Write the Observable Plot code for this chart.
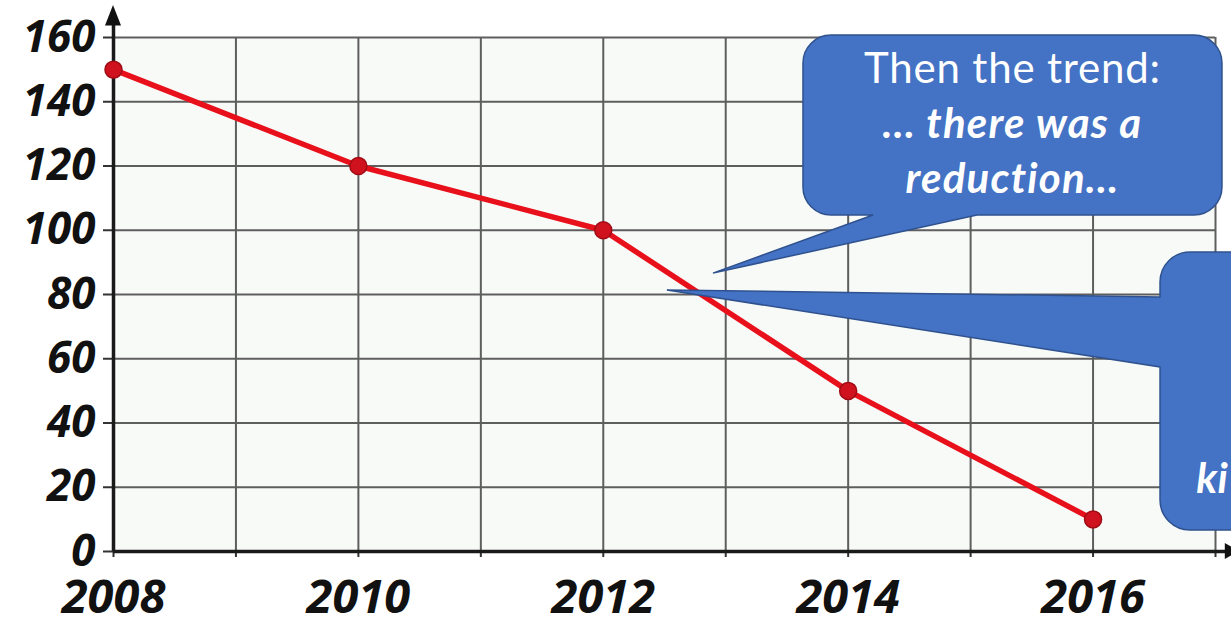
<!DOCTYPE html>
<html>
<head>
<meta charset="utf-8">
<script src="https://cdn.jsdelivr.net/npm/d3@7"></script>
<script src="https://cdn.jsdelivr.net/npm/@observablehq/plot@0.6"></script>
<style>
  html, body { margin: 0; padding: 0; background: #ffffff; }
  #chart svg { display: block; }
</style>
</head>
<body>
<div id="chart"></div>
<script>
// ---- data ----
const years = [2008, 2010, 2012, 2014, 2016];
const values = [150, 120, 100, 50, 10];
const xTickLabels = ["2008", "2010", "2012", "2014", "2016"];
const yTicks = [0, 20, 40, 60, 80, 100, 120, 140, 160];
const gridYears = [2008, 2009, 2010, 2011, 2012, 2013, 2014, 2015, 2016, 2017];
const callout1Lines = ["Then the trend:", "… there was a", "reduction…"];
const callout2Lines = ["ki"];

// annotation geometry (data units)
const callout1 = { x1: 2013.635, x2: 2017.057, y1: 104.6, y2: 160.6, baseX1: 2014.207, baseX2: 2015.056, tipX: 2012.90, tipY: 86.5 };
const callout2 = { x1: 2016.551, x2: 2017.45, y1: 6.54, y2: 93.07, baseY1: 57.3, baseY2: 79.1, tipX: 2012.524, tipY: 81.25 };

const data = years.map((y, i) => ({ year: y, value: values[i] }));
const labelOf = new Map(years.map((y, i) => [y, xTickLabels[i]]));

const W = 1231, H = 618;
const plot = Plot.plot({
  width: W,
  height: H,
  marginLeft: 113,
  marginRight: 16,
  marginTop: 37,
  marginBottom: 67,
  style: { background: "transparent", fontFamily: "'Open Sans', sans-serif", overflow: "visible" },
  x: {
    domain: [2008, 2017],
    ticks: gridYears,
    tickFormat: d => labelOf.get(d) ?? "",
    tickSize: 6,
    tickPadding: 22,
    label: null
  },
  y: {
    domain: [0, 160],
    ticks: yTicks,
    tickFormat: d => String(d),
    tickSize: 10,
    tickPadding: 8,
    label: null
  },
  marks: [
    Plot.frame({ fill: "#f8faf8", stroke: "none" }),
    Plot.ruleX(gridYears, { y1: 0, y2: 160, stroke: "#5e5e5e", strokeWidth: 2 }),
    Plot.ruleY(yTicks, { x1: 2008, x2: 2017, stroke: "#5e5e5e", strokeWidth: 2 }),
    Plot.ruleY([0], { x1: 2008, x2: 2017.1, stroke: "#1a1a1a", strokeWidth: 3.5, clip: false }),
    Plot.ruleX([2008], { y1: 0, y2: 164, stroke: "#1a1a1a", strokeWidth: 3.5, clip: false }),
    Plot.line(data, { x: "year", y: "value", stroke: "#e8101a", strokeWidth: 5.5, strokeLinejoin: "round" }),
    Plot.dot(data, { x: "year", y: "value", r: 8.5, fill: "#d0121e", stroke: "#a00c15", strokeWidth: 1.5 })
  ]
});

document.getElementById("chart").appendChild(plot);
const svg = d3.select(plot);
svg.attr("overflow", "visible");

// axis styling
svg.selectAll('g[aria-label^="y-axis"] text')
  .style("font-family", "'Open Sans', sans-serif")
  .style("font-size", "44px").style("font-weight", "700").style("font-style", "italic")
  .attr("fill", "#111").attr("stroke", "none");
svg.selectAll('g[aria-label^="x-axis"] text')
  .style("font-family", "'Open Sans', sans-serif")
  .style("font-size", "47px").style("font-weight", "700").style("font-style", "italic")
  .attr("fill", "#111").attr("stroke", "none");
svg.selectAll('g[aria-label="y-axis tick"], g[aria-label="x-axis tick"], g[aria-label="y-axis"] line, g[aria-label="x-axis"] line')
  .attr("stroke", "#333").attr("stroke-width", 2);

const sx = plot.scale("x"), sy = plot.scale("y");
const X = v => sx.apply(v), Y = v => sy.apply(v);

// axis arrowheads
const ov = svg.append("g");
{
  const ax = X(2008), tipY = Y(170), baseY = Y(163.6);
  ov.append("path").attr("d", `M${ax},${tipY}L${ax - 8},${baseY}L${ax + 8},${baseY}Z`).attr("fill", "#111");
  const ay = Y(0), baseX = X(2017.08), tipX = X(2017.2);
  ov.append("path").attr("d", `M${tipX},${ay}L${baseX},${ay - 8}L${baseX},${ay + 8}Z`).attr("fill", "#111");
}

const FILL = "#4472c4", STROKE = "#2f528f";

// callout 1: rounded box with tail from bottom edge
{
  const c = callout1, r = 28;
  const L = X(c.x1), R = X(c.x2), T = Y(c.y2), B = Y(c.y1);
  const a = X(c.baseX1), b = X(c.baseX2), tx = X(c.tipX), ty = Y(c.tipY);
  const d = `M${L + r},${T}H${R - r}A${r},${r} 0 0 1 ${R},${T + r}V${B - r}A${r},${r} 0 0 1 ${R - r},${B}` +
            `H${b}L${tx},${ty}L${a},${B}H${L + r}A${r},${r} 0 0 1 ${L},${B - r}V${T + r}A${r},${r} 0 0 1 ${L + r},${T}Z`;
  ov.append("path").attr("d", d).attr("fill", FILL).attr("stroke", STROKE).attr("stroke-width", 1.5);
  const cx = (L + R) / 2;
  const t = ov.append("text").attr("text-anchor", "middle").attr("fill", "#fff")
    .style("font-family", "Lato, 'Open Sans', sans-serif").style("font-size", "42px");
  callout1Lines.forEach((line, i) => {
    const ts = t.append("tspan").attr("x", cx).attr("y", T + 48 + i * 55).text(line);
    if (i === 0) ts.style("letter-spacing", "0.8px");
    if (i > 0) ts.style("font-weight", "700").style("font-style", "italic").style("letter-spacing", "1.2px");
  });
}

// callout 2: rounded box with tail from left edge
{
  const c = callout2, r = 30;
  const L = X(c.x1), R = X(c.x2), T = Y(c.y2), B = Y(c.y1);
  const cy1 = Y(c.baseY2), cy2 = Y(c.baseY1), tx = X(c.tipX), ty = Y(c.tipY);
  const d = `M${L + r},${T}H${R - r}A${r},${r} 0 0 1 ${R},${T + r}V${B - r}A${r},${r} 0 0 1 ${R - r},${B}` +
            `H${L + r}A${r},${r} 0 0 1 ${L},${B - r}V${cy2}L${tx},${ty}L${L},${cy1}V${T + r}A${r},${r} 0 0 1 ${L + r},${T}Z`;
  ov.append("path").attr("d", d).attr("fill", FILL).attr("stroke", STROKE).attr("stroke-width", 1.5);
  const t = ov.append("text").attr("fill", "#fff")
    .style("font-family", "Lato, 'Open Sans', sans-serif").style("font-size", "42px")
    .style("font-weight", "700").style("font-style", "italic");
  callout2Lines.forEach((line, i) => {
    t.append("tspan").attr("x", L + 52).attr("y", B - 37 + i * 55).text(line);
  });
}
</script>
</body>
</html>
